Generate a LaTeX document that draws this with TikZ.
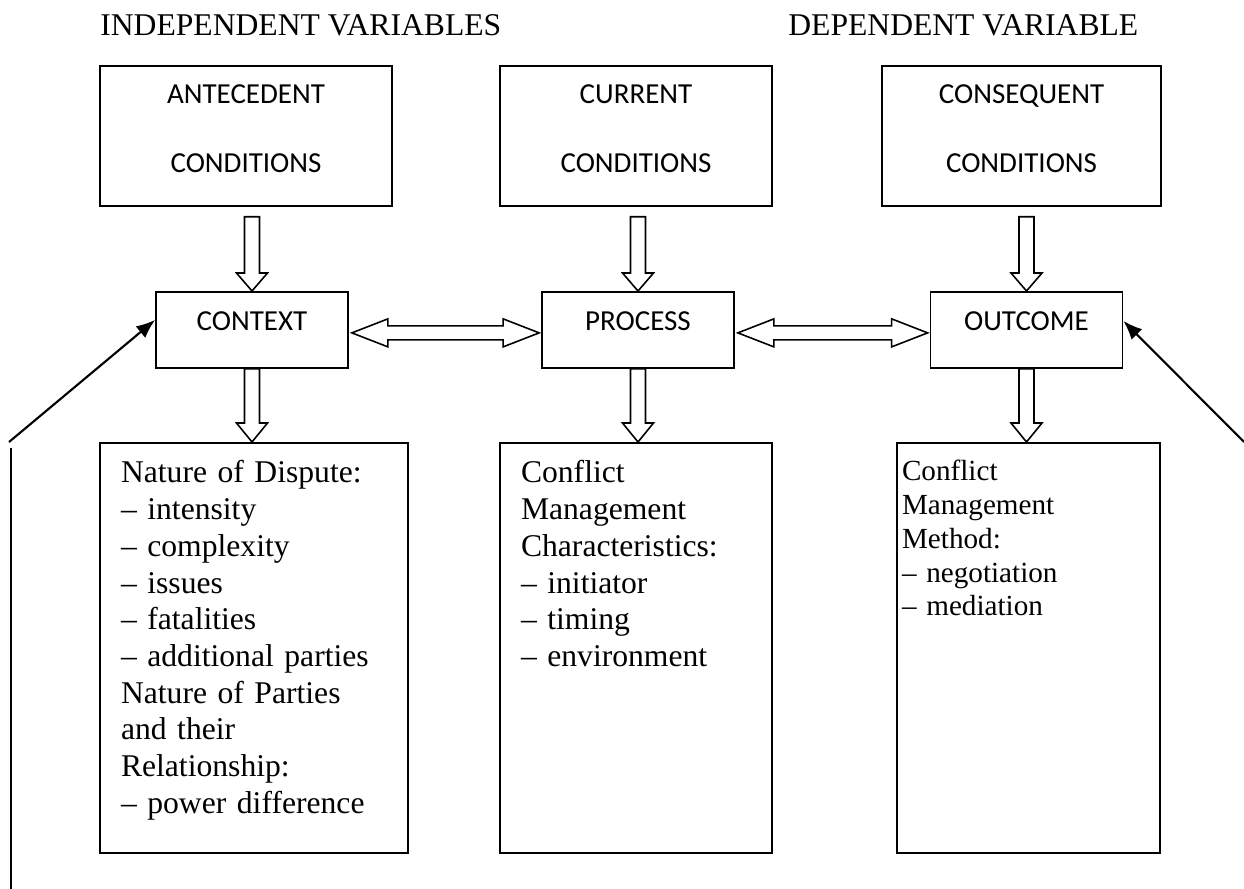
\documentclass[tikz,border=0pt]{standalone}
\usepackage{fontspec}
\setmainfont{Liberation Serif}
\newfontfamily\calibri{Carlito}
\usetikzlibrary{calc,arrows.meta}

\tikzset{
  heading/.style={anchor=base west, inner sep=0, font=\fontsize{18}{21}\selectfont},
  condbox/.style={draw, line width=1pt, inner ysep=0, align=center, anchor=north,
    font=\calibri\fontsize{16.5}{39.3}\selectfont, text height=2.14cm, text depth=0.66cm},
  stagebox/.style={draw, line width=1pt, inner sep=0, anchor=north, minimum width=3.84cm,
    font=\calibri\fontsize{16.5}{20}\selectfont, text height=0.78cm, text depth=0.74cm},
  listbox/.style={draw, line width=1pt, inner ysep=0, inner xsep=0.42cm, align=left, anchor=north,
    font=\fontsize{18}{20.9}\selectfont, text height=0.8cm, text depth=7.4cm},
  hollow/.style={line width=0.9pt, line join=miter},
  pointer/.style={line width=1.2pt, -{Latex[length=0.38cm,width=0.3cm]}}
}

\begin{document}
\begin{tikzpicture}[x=0.02cm, y=-0.02cm]
\useasboundingbox (0,0) rectangle (1244,889);

\node[heading] (indep) at (100,35) {INDEPENDENT VARIABLES};
\node[heading] (dep) at (788,35) {DEPENDENT VARIABLE};

\node[condbox, minimum width=5.84cm] (ante) at (246,65) {ANTECEDENT\\CONDITIONS};
\node[condbox, minimum width=5.44cm] (cur) at (636,65) {CURRENT\\CONDITIONS};
\node[condbox, minimum width=5.58cm] (cons) at (1021.5,65) {CONSEQUENT\\CONDITIONS};

\node[stagebox] (ctx) at (252,291) {CONTEXT};
\node[stagebox] (proc) at (638,291) {PROCESS};
\node[stagebox] (outc) at (1026.5,291) {OUTCOME};

\node[listbox, text width=5.32cm] (disp) at (254,442) {Nature of Dispute:\\
  -- intensity\\ -- complexity\\ -- issues\\ -- fatalities\\ -- additional parties\\
  Nature of Parties\\ and their\\ Relationship:\\ -- power difference};
\node[listbox, text width=4.6cm] (mgmt) at (636,442) {Conflict\\ Management\\
  Characteristics:\\ -- initiator\\ -- timing\\ -- environment};
\node[listbox, text width=5.06cm, inner xsep=0.1cm, text height=0.76cm, text depth=7.44cm,
  font=\fontsize{16.6}{19.2}\selectfont] (meth) at (1028.5,442) {Conflict\\ Management\\
  Method:\\ -- negotiation\\ -- mediation};

% block arrows down
\draw[hollow] (ctx.north) -- ++(-15.5,-18) -- ++(8,0) -- ($(ctx.north |- ante.south)+(-7.5,10)$) -- ++(15,0) -- ($(ctx.north)+(7.5,-18)$) -- ++(8,0) -- cycle;
\draw[hollow] (proc.north) -- ++(-15.5,-18) -- ++(8,0) -- ($(proc.north |- cur.south)+(-7.5,10)$) -- ++(15,0) -- ($(proc.north)+(7.5,-18)$) -- ++(8,0) -- cycle;
\draw[hollow] (outc.north) -- ++(-15.5,-18) -- ++(8,0) -- ($(outc.north |- cons.south)+(-7.5,10)$) -- ++(15,0) -- ($(outc.north)+(7.5,-18)$) -- ++(8,0) -- cycle;

\draw[hollow] (ctx.south |- disp.north) -- ++(-15.5,-19) -- ++(8,0) -- ($(ctx.south)+(-7.5,0)$) -- ++(15,0) -- ($(ctx.south |- disp.north)+(7.5,-19)$) -- ++(8,0) -- cycle;
\draw[hollow] (proc.south |- mgmt.north) -- ++(-15.5,-19) -- ++(8,0) -- ($(proc.south)+(-7.5,0)$) -- ++(15,0) -- ($(proc.south |- mgmt.north)+(7.5,-19)$) -- ++(8,0) -- cycle;
\draw[hollow] (outc.south |- meth.north) -- ++(-15.5,-19) -- ++(8,0) -- ($(outc.south)+(-7.5,0)$) -- ++(15,0) -- ($(outc.south |- meth.north)+(7.5,-19)$) -- ++(8,0) -- cycle;

% block arrows both ways
\draw[hollow] ($(ctx.east)+(3,3)$) -- ++(36,-14) -- ++(0,7) -- ($(proc.west)+(-38,-4)$) -- ++(0,-7) -- ($(proc.west)+(-2,3)$) -- ++(-36,14) -- ++(0,-7) -- ($(ctx.east)+(39,10)$) -- ++(0,7) -- cycle;
\draw[hollow] ($(proc.east)+(3,3)$) -- ++(36,-14) -- ++(0,7) -- ($(outc.west)+(-38,-4)$) -- ++(0,-7) -- ($(outc.west)+(-2,3)$) -- ++(-36,14) -- ++(0,-7) -- ($(proc.east)+(39,10)$) -- ++(0,7) -- cycle;

% side arrows
\coordinate (lfoot) at (9,442);
\coordinate (ltop) at (11,448);
\coordinate (lbot) at (11,889);
\coordinate (rfoot) at (1244,442);
\draw[pointer] (lfoot) -- ($(ctx.west)+(0,-10)$);
\draw[line width=1.2pt] (ltop) -- (lbot);
\draw[pointer] (rfoot) -- ($(outc.east)+(0,-9)$);

\end{tikzpicture}
\end{document}
